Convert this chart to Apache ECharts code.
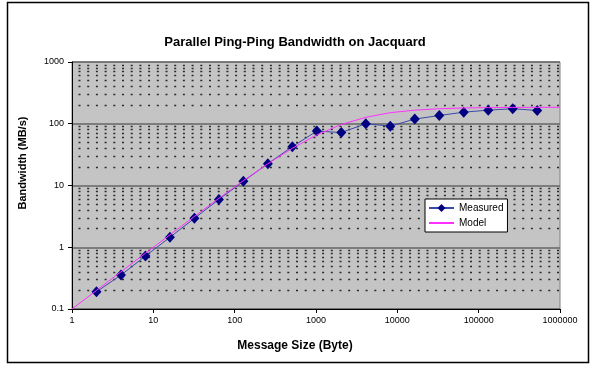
<!DOCTYPE html>
<html>
<head>
<meta charset="utf-8">
<script src="https://cdn.jsdelivr.net/npm/echarts@6/dist/echarts.min.js"></script>
<style>
  html, body { margin: 0; padding: 0; background: #ffffff; }
  #chart { width: 590px; height: 366px; }
</style>
</head>
<body>
<div id="chart"></div>
<script>
// Message sizes in bytes (powers of two)
const messageSizes = [2, 4, 8, 16, 32, 64, 128, 256, 512, 1024, 2048, 4096, 8192,
  16384, 32768, 65536, 131072, 262144, 524288];
// Measured bandwidth (MB/s)
const measured = [0.19, 0.354, 0.72, 1.45, 2.94, 5.94, 11.7, 22.6, 42.6, 76, 72, 100,
  91.5, 119, 136, 154, 166, 175, 164];
// Model curve sample points
const modelSizes = [1, 2, 4, 8, 16, 32, 64, 128, 256, 512, 1024, 2048, 4096, 8192,
  16384, 32768, 65536, 131072, 262144, 524288, 1000000];
const modelValues = [0.1, 0.2, 0.4, 0.8, 1.59, 3.15, 6.2, 12, 22.5, 40.1, 65.9, 97.2,
  127, 151, 166, 175, 180, 182.4, 183.7, 184.3, 184.7];
// Minor horizontal gridline values
const minorLines = [0.2, 0.3, 0.4, 0.5, 0.6, 0.7, 0.8, 0.9,
  2, 3, 4, 5, 6, 7, 8, 9,
  20, 30, 40, 50, 60, 70, 80, 90,
  200, 300, 400, 500, 600, 700, 800, 900];

const chart = echarts.init(document.getElementById('chart'));
const font = 'Liberation Sans, Arial, sans-serif';

// Plain numbers without thousands separators
function plain(v) {
  return String(parseFloat(Number(v).toPrecision(6)));
}

chart.setOption({
  animation: false,
  backgroundColor: '#ffffff',
  textStyle: { fontFamily: font },
  title: {
    text: 'Parallel Ping-Ping Bandwidth on Jacquard',
    left: 'center',
    top: 31,
    textStyle: { fontFamily: font, fontSize: 13, fontWeight: 'bold', color: '#000' }
  },
  legend: {
    orient: 'vertical',
    left: 425,
    top: 199,
    z: 20,
    padding: [4, 4, 4, 3],
    itemGap: 5,
    itemWidth: 25,
    itemHeight: 10,
    backgroundColor: '#ffffff',
    borderColor: '#000000',
    borderWidth: 1,
    borderRadius: 0,
    textStyle: { fontFamily: font, fontSize: 10, color: '#000' },
    data: [
      { name: 'Measured' },
      { name: 'Model', itemStyle: { opacity: 0 } }
    ]
  },
  grid: {
    left: 72, right: 30, top: 62, bottom: 57,
    show: true,
    backgroundColor: '#c4c4c4',
    borderColor: '#808080',
    borderWidth: 1
  },
  xAxis: {
    type: 'log',
    logBase: 10,
    min: 1,
    max: 1000000,
    axisLine: { lineStyle: { color: '#000', width: 1 } },
    axisTick: { show: true, length: 4, lineStyle: { color: '#000' } },
    axisLabel: { fontFamily: font, fontSize: 9, color: '#000', margin: 7, formatter: plain },
    splitLine: { show: false },
    minorTick: { show: false }
  },
  yAxis: {
    type: 'log',
    logBase: 10,
    min: 0.1,
    max: 1000,
    axisLine: { show: true, lineStyle: { color: '#000', width: 1 } },
    axisTick: { show: true, length: 4, lineStyle: { color: '#000' } },
    axisLabel: { fontFamily: font, fontSize: 9, color: '#000', margin: 8, formatter: plain },
    splitLine: { show: true, lineStyle: { color: '#666666', width: 1.5 } }
  },
  graphic: [
    {
      type: 'rect',
      shape: { x: 7.5, y: 2.5, width: 581, height: 360 },
      style: { fill: 'none', stroke: '#000', lineWidth: 1.5 },
      silent: true
    },
    {
      type: 'text',
      left: 'center',
      top: 340,
      style: { text: 'Message Size (Byte)', font: 'bold 12px ' + font, fill: '#000' }
    },
    {
      type: 'text',
      x: 17,
      y: 163,
      rotation: Math.PI / 2,
      style: {
        text: 'Bandwidth (MB/s)', font: 'bold 11px ' + font, fill: '#000',
        align: 'center', verticalAlign: 'top'
      }
    }
  ],
  series: [
    {
      name: 'minor',
      type: 'line',
      data: [],
      silent: true,
      z: 1,
      markLine: {
        silent: true,
        z: 1,
        symbol: 'none',
        label: { show: false },
        animation: false,
        lineStyle: { color: '#2a2a2a', width: 1.3, type: [2, 6.7], dashOffset: 2.2 },
        data: minorLines.map(v => ({ yAxis: v }))
      }
    },
    {
      name: 'Measured',
      type: 'line',
      data: messageSizes.map((s, i) => [s, measured[i]]),
      symbol: 'diamond',
      symbolSize: [10, 11],
      itemStyle: { color: '#000080' },
      lineStyle: { color: '#3a4aa8', width: 1 },
      z: 3
    },
    {
      name: 'Model',
      type: 'line',
      data: modelSizes.map((s, i) => [s, modelValues[i]]),
      symbol: 'none',
      showSymbol: false,
      itemStyle: { color: '#ff00ff' },
      lineStyle: { color: '#ff30ff', width: 1 },
      z: 4
    }
  ]
});
</script>
</body>
</html>
